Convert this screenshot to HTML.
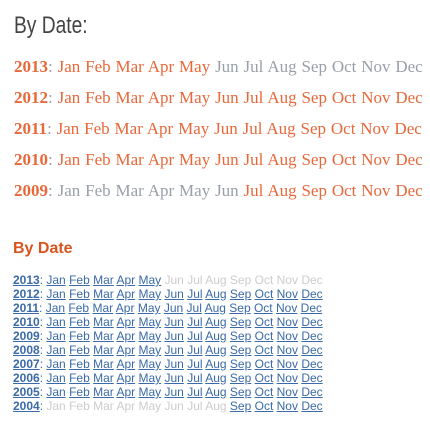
<!DOCTYPE html>
<html><head><meta charset="utf-8">
<style>
body{margin:0;width:430px;height:430px;background:#fff;overflow:hidden;position:relative}
#h1{position:absolute;left:14px;top:12px;font-family:"Liberation Sans Narrow","Liberation Sans",sans-serif;font-size:24px;color:#444;transform:scaleX(0.8);transform-origin:left top}
.tr{position:absolute;left:14px;font-family:"Liberation Serif",serif;font-size:17px;white-space:nowrap;color:#9aa0a8;word-spacing:0.6px}
.tr b{color:#e8683a}
.tr .on{color:#e8683a}
#h2{position:absolute;left:13px;top:240px;font-family:"Liberation Sans",sans-serif;font-weight:bold;font-size:16px;color:#d9541e}
.br{position:absolute;left:13px;font-family:"Liberation Sans",sans-serif;font-size:12px;white-space:nowrap;color:#3a6aa8;line-height:14px}
.br a{color:#3a6aa8;text-decoration:underline}
.br .off{color:#ccc;text-decoration:none}
.br b a{font-weight:bold}
</style></head><body>
<div id="h1">By Date:</div>
<div id="h2">By Date</div>
<script>
const months=["Jan","Feb","Mar","Apr","May","Jun","Jul","Aug","Sep","Oct","Nov","Dec"];
const topYears=[2013,2012,2011,2010,2009];
const topStart=[1,1,1,1,7];
const topEnd=[5,12,12,12,12];
const botYears=[2013,2012,2011,2010,2009,2008,2007,2006,2005,2004];
const botStart=[1,1,1,1,1,1,1,1,1,9];
const botEnd=[5,12,12,12,12,12,12,12,12,12];
topYears.forEach((y,i)=>{
  const d=document.createElement('div');
  d.className='tr';
  d.style.top=(57+i*31)+'px';
  
  
  let h='<b>'+y+'</b>: ';
  months.forEach((m,j)=>{const on=j+1>=topStart[i]&&j+1<=topEnd[i];h+='<span class="'+(on?'on':'')+'">'+m+'</span> ';});
  d.innerHTML=h;
  document.body.appendChild(d);
  d.querySelectorAll('span').forEach(s=>{
    
    
  });
});
botYears.forEach((y,i)=>{
  const d=document.createElement('div');
  d.className='br';
  d.style.top=(273+i*14)+'px';
  
  
  let h='<b><a>'+y+'</a></b>: ';
  months.forEach((m,j)=>{const on=j+1>=botStart[i]&&j+1<=botEnd[i];h+='<a class="'+(on?'':'off')+'">'+m+'</a> ';});
  d.innerHTML=h;
  document.body.appendChild(d);
  d.querySelectorAll('a').forEach(s=>{
    
    
  });
});
</script>
</body></html>
